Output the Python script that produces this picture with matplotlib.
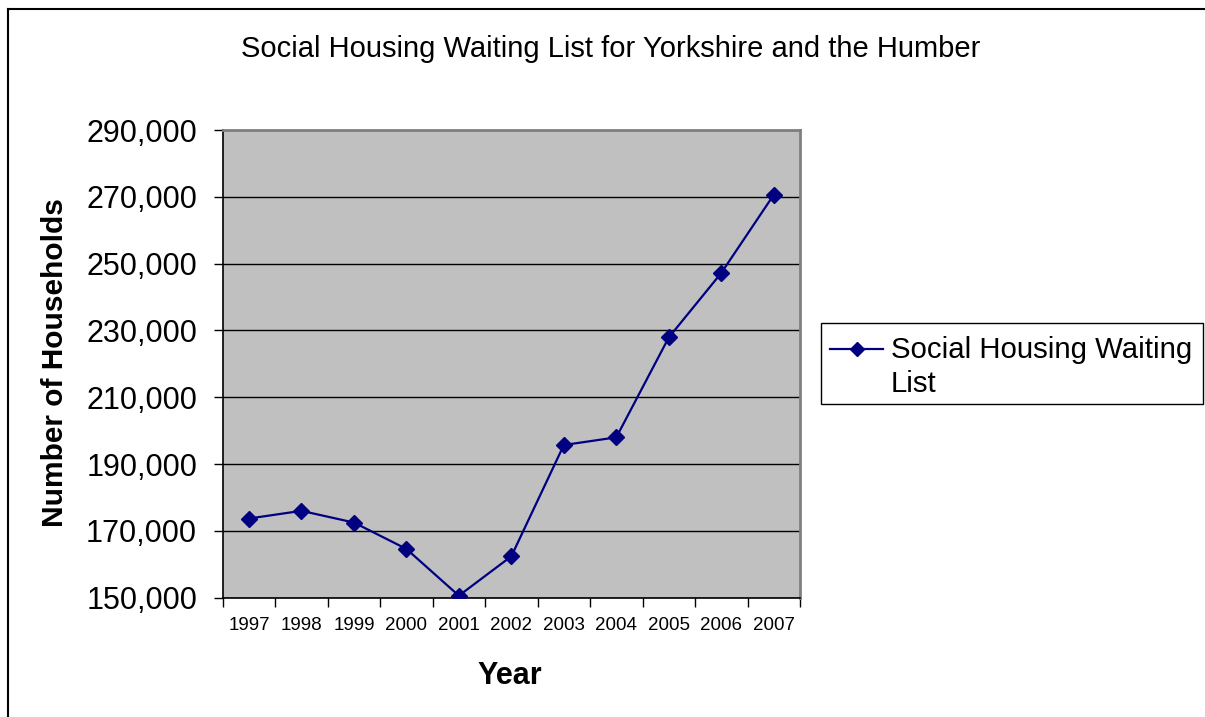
import matplotlib
matplotlib.use("Agg")
import matplotlib.pyplot as plt
from matplotlib.lines import Line2D
from matplotlib.patches import Rectangle
from matplotlib.ticker import FuncFormatter, FixedLocator, NullFormatter

plt.rcParams['font.family'] = ['Liberation Sans', 'DejaVu Sans']

years = ['1997', '1998', '1999', '2000', '2001', '2002', '2003', '2004', '2005', '2006', '2007']
households = [173700, 176000, 172500, 164600, 150600, 162400, 195700, 198000, 227900, 247200, 270600]
yticks = [150000, 170000, 190000, 210000, 230000, 250000, 270000, 290000]
series_name = 'Social Housing Waiting\nList'
title = 'Social Housing Waiting List for Yorkshire and the Humber'

W, H = 1205, 717
fig = plt.figure(figsize=(W / 100, H / 100), dpi=100)

def px(x0, y0, x1, y1):
    return [x0 / W, 1 - y1 / H, (x1 - x0) / W, (y1 - y0) / H]

ax = fig.add_axes(px(222.7, 130, 800, 597.7))
ax.set_facecolor('#C0C0C0')

x = list(range(len(years)))
ax.plot(x, households, color='#000080', linewidth=1.6, marker='D', markersize=8.5,
        markerfacecolor='#000080', markeredgecolor='#000080', zorder=3)

ax.set_xlim(-0.5, len(years) - 0.5)
ax.set_ylim(yticks[0], yticks[-1])
ax.set_yticks(yticks)
ax.yaxis.set_major_formatter(FuncFormatter(lambda v, p: f'{int(v):,}'))
ax.grid(axis='y', color='black', linewidth=1.0)
ax.set_axisbelow(True)

# x ticks between categories, labels at centres
ax.xaxis.set_major_locator(FixedLocator([i - 0.5 for i in range(len(years) + 1)]))
ax.xaxis.set_major_formatter(NullFormatter())
ax.xaxis.set_minor_locator(FixedLocator(x))
ax.set_xticklabels(years, minor=True)
ax.tick_params(axis='x', which='major', direction='out', length=6.5, width=1, color='black')
ax.tick_params(axis='x', which='minor', length=0, labelsize=13.5, pad=14)
ax.tick_params(axis='y', direction='out', length=6.5, width=1, color='black', labelsize=22, pad=12)

for s in ['left', 'bottom']:
    ax.spines[s].set_color('black')
    ax.spines[s].set_linewidth(1.2)
for s in ['top', 'right']:
    ax.spines[s].set_color('#808080')
    ax.spines[s].set_linewidth(2)

fig.text(610.5 / W, 1 - 49 / H, title, ha='center', va='center', fontsize=21)
fig.text(55 / W, 1 - 363 / H, 'Number of Households', rotation=90, ha='center', va='center',
         fontsize=21.5, fontweight='bold')
fig.text(510 / W, 1 - 676 / H, 'Year', ha='center', va='center', fontsize=22, fontweight='bold')

# legend box
fig.patches.append(Rectangle((821 / W, 1 - 404 / H), (1203 - 821) / W, (404 - 323) / H,
                             transform=fig.transFigure, fill=False, edgecolor='black', linewidth=1))
fig.lines.append(Line2D([830 / W, 883 / W], [1 - 349 / H, 1 - 349 / H], transform=fig.transFigure,
                        color='#000080', linewidth=1.6))
fig.lines.append(Line2D([856.5 / W], [1 - 349 / H], transform=fig.transFigure, marker='D',
                        markersize=7, color='#000080', linestyle='none'))
fig.text(891 / W, 1 - 367 / H, series_name, ha='left', va='center', fontsize=21.2, linespacing=1.3)

# outer border (top and left)
fig.lines.append(Line2D([8 / W, 1], [1 - 9 / H, 1 - 9 / H], transform=fig.transFigure, color='black', linewidth=1.5))
fig.lines.append(Line2D([8 / W, 8 / W], [0, 1 - 9 / H], transform=fig.transFigure, color='black', linewidth=1.5))

fig.savefig('out.png', dpi=100)
